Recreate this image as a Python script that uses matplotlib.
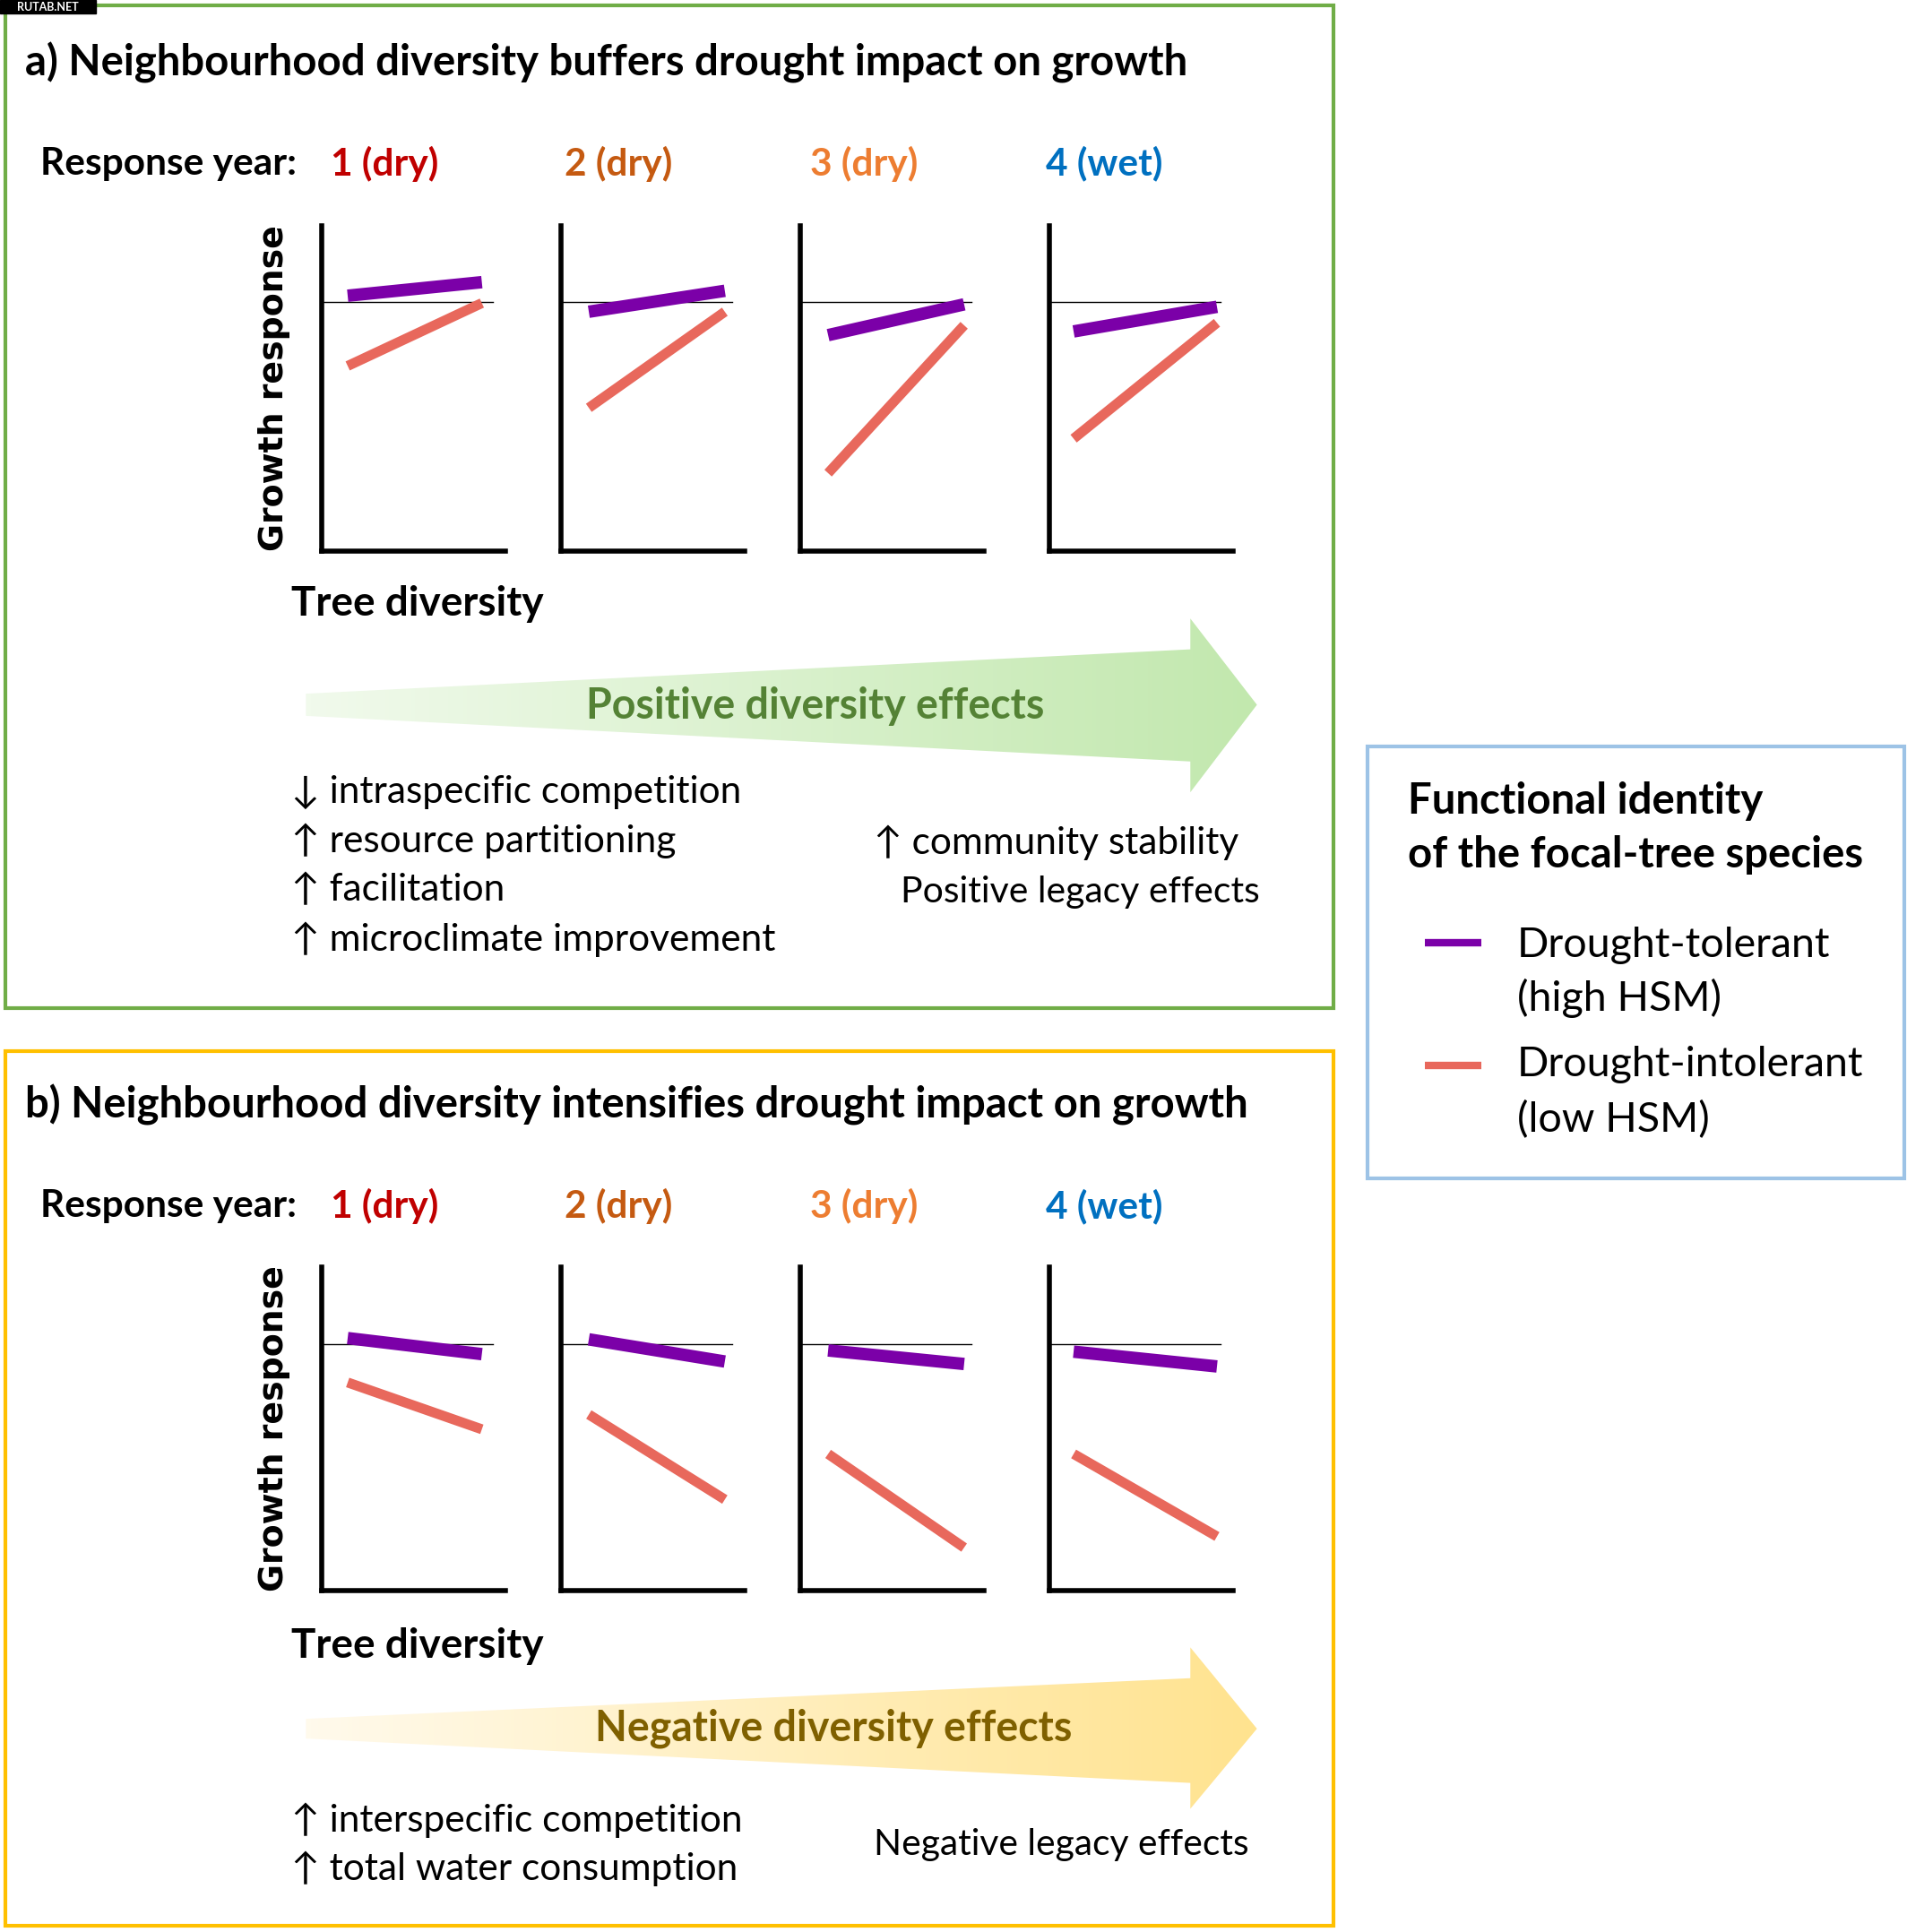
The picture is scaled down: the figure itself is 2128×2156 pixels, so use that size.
import matplotlib
matplotlib.use("Agg")
import matplotlib.pyplot as plt
from matplotlib.patches import Rectangle, Polygon
from matplotlib.colors import LinearSegmentedColormap
import numpy as np

plt.rcParams['font.family'] = ['Lato', 'DejaVu Sans']

# ===== DATA =====
years = ["1 (dry)", "2 (dry)", "3 (dry)", "4 (wet)"]
year_colors = ["#C00000", "#C55A11", "#ED7D31", "#0070C0"]

# tree diversity: low / high end of each response line
x_low = [0.14, 0.15, 0.15, 0.13]
x_high = [0.87, 0.89, 0.89, 0.91]

# growth response (zero line = 0) at low and high diversity
a_tol_low = [0.05, -0.08, -0.27, -0.24]
a_tol_high = [0.16, 0.09, -0.02, -0.04]
a_int_low = [-0.52, -0.86, -1.39, -1.11]
a_int_high = [-0.01, -0.08, -0.19, -0.17]

b_tol_low = [0.05, 0.04, -0.05, -0.06]
b_tol_high = [-0.08, -0.14, -0.16, -0.18]
b_int_low = [-0.31, -0.57, -0.89, -0.89]
b_int_high = [-0.69, -1.26, -1.65, -1.56]

a_mechanisms = ["\u2193 intraspecific competition", "\u2191 resource partitioning",
                "\u2191 facilitation", "\u2191 microclimate improvement"]
b_mechanisms = ["\u2191 interspecific competition", "\u2191 total water consumption"]

# ===== STYLE =====
PURPLE = "#7B00A8"
SALMON = "#E8685C"
W, H = 1546, 1568  # layout units (scaled to the output size)

fig = plt.figure(figsize=(21.28, 21.56), dpi=100)
bg = fig.add_axes([0, 0, 1, 1])
bg.set_xlim(0, W)
bg.set_ylim(H, 0)
bg.axis("off")

# watermark badge
bg.add_patch(Rectangle((0, 0), 78, 11, color="black", zorder=5))
bg.text(39, 5.5, "RUTAB.NET", color="white", fontsize=9, fontweight="bold",
        ha="center", va="center", zorder=6)

# panel frames
bg.add_patch(Rectangle((4, 4), 1077, 814, fill=False, ec="#70AD47", lw=3))
bg.add_patch(Rectangle((4, 853), 1077, 710, fill=False, ec="#FFC000", lw=3))
bg.add_patch(Rectangle((1109, 606), 435, 350, fill=False, ec="#9DC3E6", lw=3))

ax_left = [261, 455, 649, 851]
ax_w = 149


def gradient_arrow(yc, shaft_top, shaft_bot, head_top, head_bot, tail_half, start_color, end_color):
    pts = [(248, yc - tail_half), (965, shaft_top), (965, head_top), (1019, yc),
           (965, head_bot), (965, shaft_bot), (248, yc + tail_half)]
    poly = Polygon(pts, closed=True, fc="none", ec="none")
    bg.add_patch(poly)
    cmap = LinearSegmentedColormap.from_list("g", [start_color, end_color])
    grad = np.linspace(0, 1, 256).reshape(1, -1)
    im = bg.imshow(grad, cmap=cmap, aspect="auto", extent=(248, 1019, head_bot, head_top),
                   interpolation="bicubic")
    im.set_clip_path(poly)


def draw_panel(top, bottom, zero_y, title, title_y, year_y, td_y,
               tol_low, tol_high, int_low, int_high):
    bg.text(20, title_y, title, fontsize=34, fontweight="bold", va="center", ha="left")
    bg.text(33, year_y, "Response year:", fontsize=30.5, fontweight="bold", va="center")
    for i, (lab, c) in enumerate(zip(years, year_colors)):
        bg.text([268, 458, 657, 848][i], year_y, lab, fontsize=30.5, fontweight="bold",
                color=c, va="center")
    bg.text(222, (top + bottom) / 2, "Growth response", rotation=90, fontsize=27.3,
            fontweight="bold", family="DejaVu Sans", ha="center", va="center")
    bg.text(236, td_y, "Tree diversity", fontsize=33, fontweight="bold", va="center")

    y_top = (zero_y - top) / 100
    y_bot = (zero_y - bottom) / 100
    for i in range(4):
        ax = fig.add_axes([ax_left[i] / W, 1 - bottom / H, ax_w / W, (bottom - top) / H])
        ax.set_xlim(0, 1)
        ax.set_ylim(y_bot, y_top)
        ax.patch.set_alpha(0)
        for s in ["top", "right"]:
            ax.spines[s].set_visible(False)
        for s in ["left", "bottom"]:
            ax.spines[s].set_linewidth(4)
            ax.spines[s].set_capstyle("projecting")
        ax.set_xticks([])
        ax.set_yticks([])
        ax.axhline(0, xmin=0, xmax=0.93, color="black", lw=1)
        ax.plot([x_low[i], x_high[i]], [int_low[i], int_high[i]], color=SALMON,
                lw=8, solid_capstyle="butt")
        ax.plot([x_low[i], x_high[i]], [tol_low[i], tol_high[i]], color=PURPLE,
                lw=10, solid_capstyle="butt")


# ===== PANEL A =====
draw_panel(183, 447, 245, "a) Neighbourhood diversity buffers drought impact on growth",
           51, 133, 490, a_tol_low, a_tol_high, a_int_low, a_int_high)
gradient_arrow(572, 527, 618, 502, 643, 9, "#F1FAEC", "#C2E8AE")
bg.text(661, 573, "Positive diversity effects", fontsize=33.5, fontweight="bold",
        color="#548235", ha="center", va="center")
for k, line in enumerate(a_mechanisms):
    bg.text(236, 643 + 39.7 * k, line, fontsize=30.5, va="center")
bg.text(708, 684, "\u2191 community stability", fontsize=30.5, va="center")
bg.text(730, 724, "Positive legacy effects", fontsize=29.4, va="center")

# ===== PANEL B =====
draw_panel(1028, 1291, 1091, "b) Neighbourhood diversity intensifies drought impact on growth",
           897, 979, 1336, b_tol_low, b_tol_high, b_int_low, b_int_high)
gradient_arrow(1403, 1362, 1447, 1337, 1468, 8, "#FFFAEC", "#FFE38F")
bg.text(676, 1403, "Negative diversity effects", fontsize=33.5, fontweight="bold",
        color="#7F6000", ha="center", va="center")
for k, line in enumerate(b_mechanisms):
    bg.text(236, 1477 + 39.5 * k, line, fontsize=30.5, va="center")
bg.text(708, 1497, "Negative legacy effects", fontsize=29.3, va="center")

# ===== LEGEND =====
bg.text(1141, 650, "Functional identity", fontsize=34, fontweight="bold", va="center")
bg.text(1141, 694, "of the focal-tree species", fontsize=34, fontweight="bold", va="center")
bg.plot([1155, 1201], [765, 765], color=PURPLE, lw=6, solid_capstyle="butt")
bg.plot([1155, 1201], [865, 865], color=SALMON, lw=6, solid_capstyle="butt")
bg.text(1230, 767, "Drought-tolerant", fontsize=33.5, va="center")
bg.text(1230, 810, "(high HSM)", fontsize=33.5, va="center")
bg.text(1230, 864, "Drought-intolerant", fontsize=33.5, va="center")
bg.text(1230, 909, "(low HSM)", fontsize=33.5, va="center")

bg.set_xlim(0, W)
bg.set_ylim(H, 0)

fig.savefig("out.png", dpi=100, facecolor="white")
